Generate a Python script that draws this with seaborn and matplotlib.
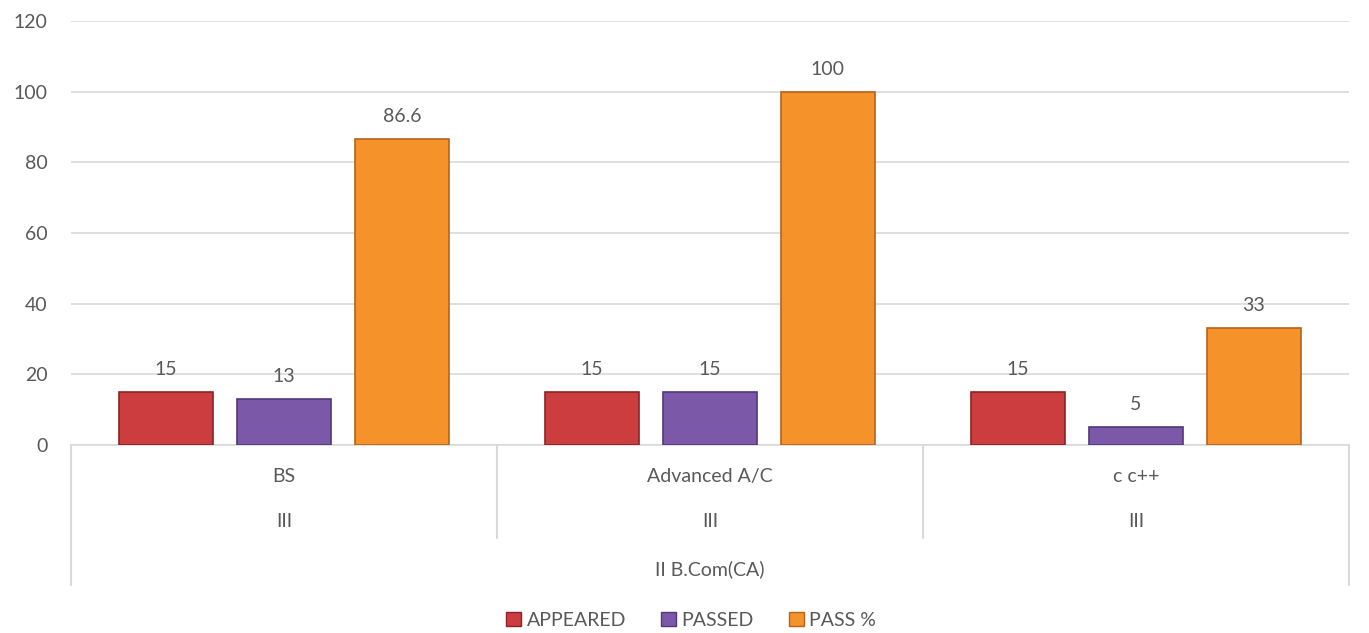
import pandas as pd
import matplotlib
matplotlib.use("Agg")
import matplotlib.pyplot as plt
import matplotlib.transforms as mtransforms
from matplotlib.patches import Patch
import seaborn as sns

subjects = ["BS", "Advanced A/C", "c c++"]
semester = ["III", "III", "III"]
course = "II B.Com(CA)"
series = ["APPEARED", "PASSED", "PASS %"]
appeared = [15, 15, 15]
passed = [13, 15, 5]
pass_pct = [86.6, 100, 33]
y_ticks = [0, 20, 40, 60, 80, 100, 120]

colors = ["#cc3d40", "#7c59a8", "#f5922a"]
edges = ["#8c2224", "#52377a", "#b5631a"]

df = pd.DataFrame({
    "subject": subjects * 3,
    "series": [series[0]] * 3 + [series[1]] * 3 + [series[2]] * 3,
    "value": appeared + passed + pass_pct,
})

sns.set_style("white")
plt.rcParams['font.family'] = ['Lato', 'DejaVu Sans']
txt = "#595959"
grid = "#d9d9d9"
fs = 14

fig = plt.figure(figsize=(13.69, 6.33), dpi=100)
ax = fig.add_axes([0.0519, 0.297, 0.9335, 0.670])

sns.barplot(data=df, x="subject", y="value", hue="series", order=subjects,
            hue_order=series, palette=colors, saturation=1, width=0.83, gap=0.2,
            ax=ax, legend=False, zorder=3)

for cont, ec in zip(ax.containers, edges):
    for p in cont:
        p.set_edgecolor(ec)
        p.set_linewidth(1.2)
    ax.bar_label(cont, fmt="%g", padding=10, fontsize=fs, color=txt)

ax.set_ylim(0, 120)
ax.set_xlim(-0.5, 2.5)
ax.set_yticks(y_ticks)
ax.yaxis.grid(True, color=grid, linewidth=1.2, zorder=0)
ax.set_axisbelow(True)
for s in ["top", "right", "left"]:
    ax.spines[s].set_visible(False)
ax.spines["bottom"].set_color(grid)
ax.spines["bottom"].set_linewidth(1.2)
ax.tick_params(axis="y", length=0, labelsize=fs, labelcolor=txt, pad=17)
ax.set_xticks([])
ax.set_xlabel("")
ax.set_ylabel("")

# multi-level category axis
trans = mtransforms.blended_transform_factory(ax.transData, ax.transAxes)
for xv in [-0.5, 2.5]:
    ax.plot([xv, xv], [0, -0.330], transform=trans, color=grid, lw=1.5, clip_on=False)
for xv in [0.5, 1.5]:
    ax.plot([xv, xv], [0, -0.219], transform=trans, color=grid, lw=1.5, clip_on=False)
for i, (sub, sem) in enumerate(zip(subjects, semester)):
    ax.text(i, -0.075, sub, transform=trans, ha="center", va="center", fontsize=fs, color=txt)
    ax.text(i, -0.181, sem, transform=trans, ha="center", va="center", fontsize=fs, color=txt)
ax.text(1, -0.292, course, transform=trans, ha="center", va="center", fontsize=fs, color=txt)

handles = [Patch(facecolor=c, edgecolor=e, label=s) for c, e, s in zip(colors, edges, series)]
fig.legend(handles=handles, loc="center", bbox_to_anchor=(0.505, 0.02), ncol=3,
           frameon=False, fontsize=fs, labelcolor=txt, handlelength=0.75,
           handleheight=0.75, handletextpad=0.3, columnspacing=1.8)

fig.savefig("out.png", dpi=100)
